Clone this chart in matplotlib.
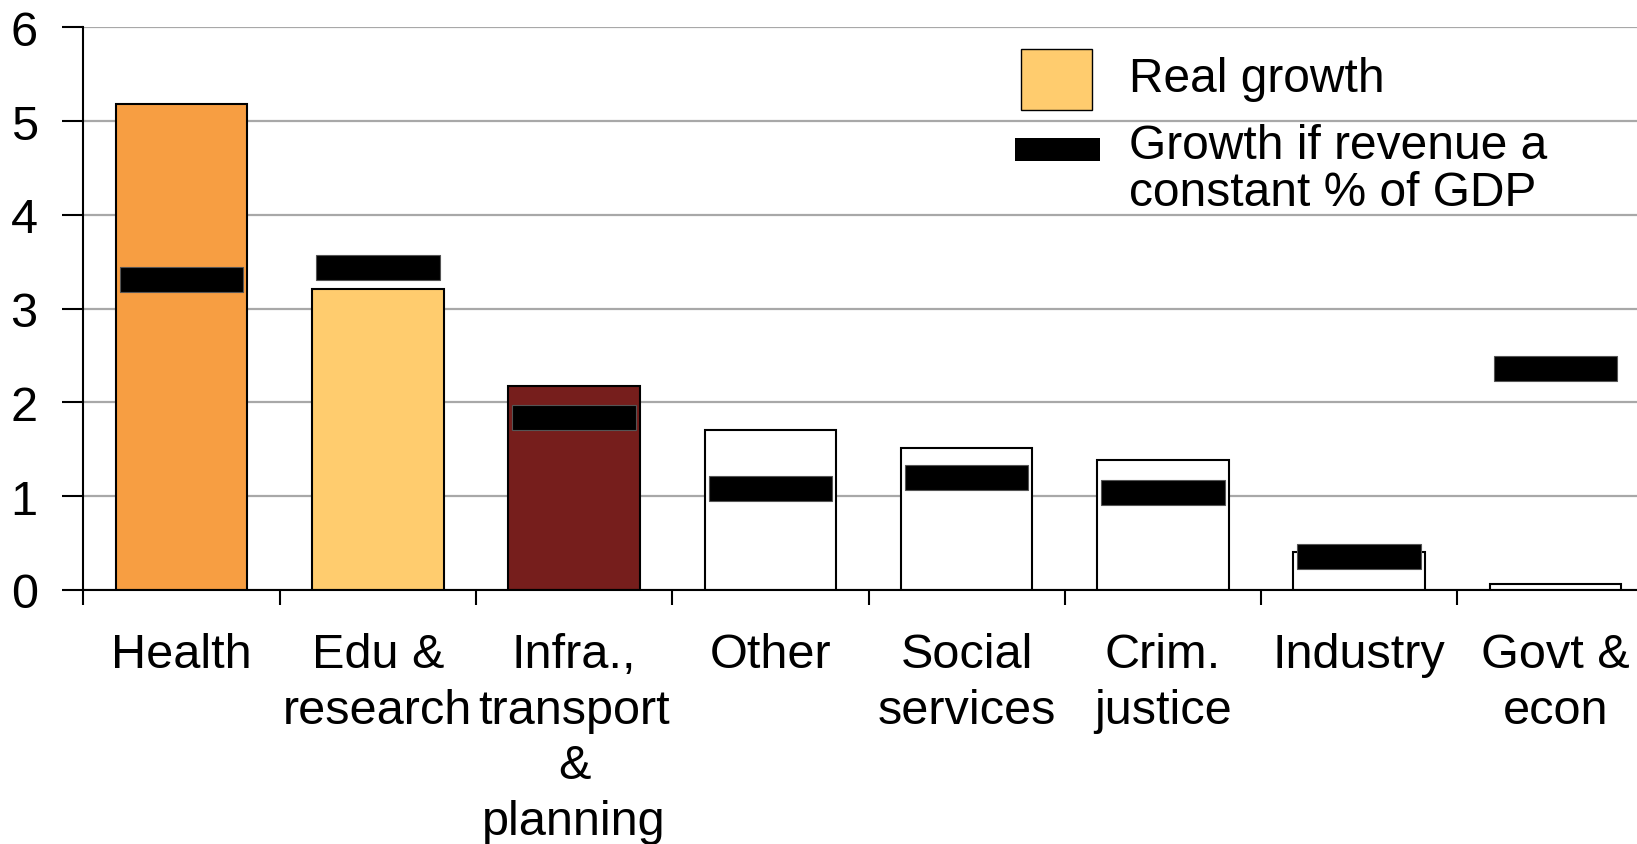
import matplotlib.pyplot as plt
from matplotlib.patches import Rectangle

plt.rcParams['font.family'] = ['Liberation Sans', 'DejaVu Sans']

categories = ["Health", "Edu &\nresearch", "Infra.,\ntransport\n&\nplanning", "Other",
              "Social\nservices", "Crim.\njustice", "Industry", "Govt &\necon"]
real_growth = [5.18, 3.21, 2.17, 1.71, 1.51, 1.39, 0.40, 0.065]
constant_gdp_growth = [3.31, 3.44, 1.84, 1.08, 1.20, 1.04, 0.36, 2.36]
bar_colors = ["#F79E42", "#FFCC6E", "#761E1C", "white", "white", "white", "white", "white"]

fig = plt.figure(figsize=(16.37, 8.45), dpi=100)
ax = fig.add_axes([0.051, 0.3006, 0.9591, 0.666])

x = range(len(categories))
ax.bar(x, real_growth, width=0.67, color=bar_colors, edgecolor="black", linewidth=1.5, zorder=2)

# black dashes for the constant-revenue scenario
dash_h = 0.27
ax.bar(x, [dash_h] * len(x), bottom=[v - dash_h / 2 for v in constant_gdp_growth],
       width=0.63, color="black", edgecolor="#555555", linewidth=0.8, zorder=3)

ax.set_xlim(-0.5, 7.5)
ax.set_ylim(0, 6)
ax.set_yticks(range(7))
ax.yaxis.grid(True, color="#A8A8A8", linewidth=1.6, zorder=0)
ax.set_axisbelow(True)

ax.set_xticks(list(x))
ax.set_xticklabels(categories, fontsize=35, linespacing=1.31)
ax.set_xticks([i - 0.5 for i in range(9)], minor=True)
ax.tick_params(axis="x", which="major", length=0, pad=30)
ax.tick_params(axis="x", which="minor", length=11, width=1.5, direction="out")
ax.tick_params(axis="y", length=15, width=1.5, labelsize=35, pad=18)

for side in ("top", "right"):
    ax.spines[side].set_visible(False)
for side in ("left", "bottom"):
    ax.spines[side].set_linewidth(1.5)

# legend
fig.patches.append(Rectangle((0.6237, 0.8686), 0.0434, 0.0722, transform=fig.transFigure,
                             facecolor="#FFCC6E", edgecolor="black", linewidth=1.0))
fig.patches.append(Rectangle((0.620, 0.8083), 0.0519, 0.0272, transform=fig.transFigure,
                             facecolor="black", edgecolor="none"))
fig.text(0.6897, 0.9065, "Real growth", fontsize=34.5, va="center", ha="left")
fig.text(0.6897, 0.7988, "Growth if revenue a\nconstant % of GDP", fontsize=34.5,
         va="center", ha="left", linespacing=1.05)

fig.savefig("out.png", dpi=100)
